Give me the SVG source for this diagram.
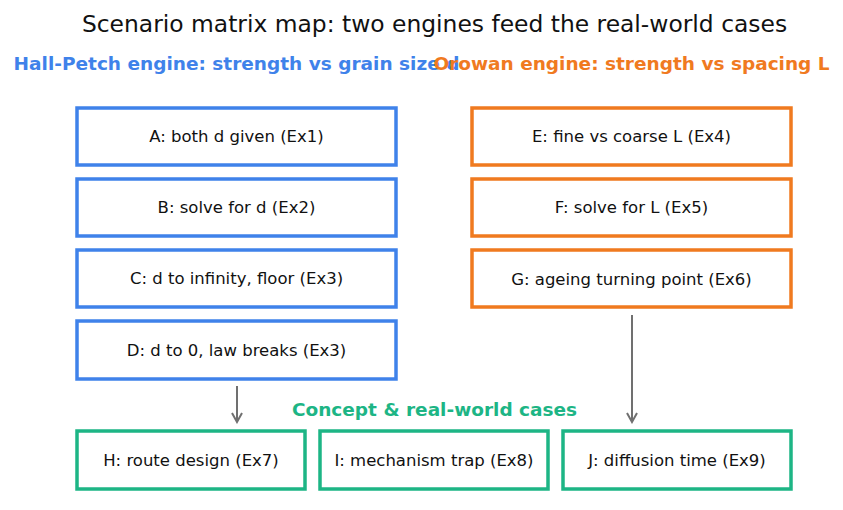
<svg xmlns="http://www.w3.org/2000/svg" width="843" height="510" viewBox="0 0 843 510">
<style>
text{font-family:"DejaVu Sans",sans-serif;text-anchor:middle}
.title{font-size:23.4px;fill:#111}
.hdr{font-size:18.5px;font-weight:bold}
.lbl{font-size:16.5px;fill:#111}
.box{fill:#fff;stroke-width:3.5}
.blue{stroke:#3f82ea}
.orange{stroke:#f07a1f}
.green{stroke:#1db585}
.edge{stroke:#707070;stroke-width:2;fill:none}
</style>
<defs>
<marker id="ah" viewBox="0 0 12 12" refX="10" refY="6" markerWidth="12" markerHeight="12" markerUnits="userSpaceOnUse" orient="auto">
<path d="M1,1 L10,6 L1,11" fill="none" stroke="#707070" stroke-width="2"/>
</marker>
</defs>
<rect width="843" height="510" fill="#fff"/>
<text class="title" x="434.5" y="32">Scenario matrix map: two engines feed the real-world cases</text>
<text class="hdr" x="236.5" y="70" fill="#3f82ea">Hall-Petch engine: strength vs grain size d</text>
<text class="hdr" x="631.5" y="70" fill="#f07a1f">Orowan engine: strength vs spacing L</text>
<text class="hdr" x="434.5" y="416" fill="#1db585">Concept &amp; real-world cases</text>
<g id="connectors">
<line class="edge" x1="237" y1="386" x2="237" y2="422" marker-end="url(#ah)"/>
<line class="edge" x1="632" y1="315" x2="632" y2="422" marker-end="url(#ah)"/>
</g>
<g id="A"><rect class="box blue" x="77" y="108" width="319" height="57"/><text class="lbl" x="236.5" y="142">A: both d given (Ex1)</text></g>
<g id="B"><rect class="box blue" x="77" y="179" width="319" height="57"/><text class="lbl" x="236.5" y="213">B: solve for d (Ex2)</text></g>
<g id="C"><rect class="box blue" x="77" y="250" width="319" height="57"/><text class="lbl" x="236.5" y="284">C: d to infinity, floor (Ex3)</text></g>
<g id="D"><rect class="box blue" x="77" y="321" width="319" height="58"/><text class="lbl" x="236.5" y="356">D: d to 0, law breaks (Ex3)</text></g>
<g id="E"><rect class="box orange" x="472" y="108" width="319" height="57"/><text class="lbl" x="631.5" y="142">E: fine vs coarse L (Ex4)</text></g>
<g id="F"><rect class="box orange" x="472" y="179" width="319" height="57"/><text class="lbl" x="631.5" y="213">F: solve for L (Ex5)</text></g>
<g id="G"><rect class="box orange" x="472" y="250" width="319" height="57"/><text class="lbl" x="631.5" y="285">G: ageing turning point (Ex6)</text></g>
<g id="H"><rect class="box green" x="77" y="431" width="228" height="58"/><text class="lbl" x="191" y="466">H: route design (Ex7)</text></g>
<g id="I"><rect class="box green" x="320" y="431" width="228" height="58"/><text class="lbl" x="434" y="466">I: mechanism trap (Ex8)</text></g>
<g id="J"><rect class="box green" x="563" y="431" width="228" height="58"/><text class="lbl" x="677" y="466">J: diffusion time (Ex9)</text></g>
</svg>
